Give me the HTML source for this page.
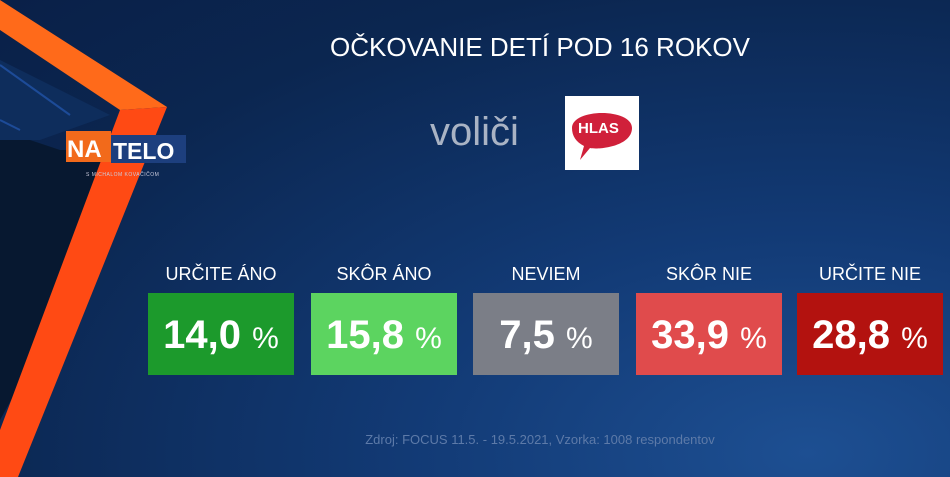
<!DOCTYPE html>
<html><head><style>
body{margin:0;width:950px;height:477px;overflow:hidden;font-family:"Liberation Sans",sans-serif;}
#bg{position:absolute;left:0;top:0;width:950px;height:477px;background:radial-gradient(ellipse at 85% 95%,#1d4f92 0%,#123a75 35%,#0b2650 75%,#0a2048 100%);}
.t{position:absolute;color:#fff;}
.lab{position:absolute;top:264px;width:146px;text-align:center;color:#fff;font-size:18px;}
.box{position:absolute;top:293px;width:146px;height:82px;color:#fff;text-align:center;line-height:84px;font-size:40px;font-weight:bold;}
.box span{font-weight:normal;font-size:30px;}
</style></head><body>
<div id="bg"></div>
<svg width="950" height="477" style="position:absolute;left:0;top:0">
<polygon points="0,140 30,140 60,150 150,150 0,420" fill="#071830"/>
<polygon points="0,60 110,115 40,140 0,140" fill="#0e2d5c"/>
<line x1="0" y1="65" x2="70" y2="115" stroke="#1d4b98" stroke-width="2"/>
<line x1="0" y1="120" x2="20" y2="130" stroke="#1d4b98" stroke-width="2"/>
<polygon points="0,0 0,30 120,110 167,107" fill="#ff6a1a"/>
<polygon points="120,110 167,107 18,477 0,477 0,430" fill="#ff4a14"/>
<rect x="66" y="131" width="45" height="31" fill="#f26a1b"/>
<rect x="111" y="135" width="75" height="28" fill="#1d3f7e"/>
<text x="67" y="157" font-family="Liberation Sans" font-weight="bold" font-size="24" fill="#fff">NA</text>
<text x="113" y="159" font-family="Liberation Sans" font-weight="bold" font-size="23" fill="#fff">TELO</text>
<text x="86" y="176" font-family="Liberation Sans" font-size="5" fill="#ccd" letter-spacing="0.5">S MICHALOM KOVAČIČOM</text>
<rect x="565" y="96" width="74" height="74" fill="#fff"/>
<path d="M572,128 C572,108 632,108 632,128 C632,146 600,150 590,148 L580,160 L584,146 C576,142 572,136 572,128Z" fill="#d0203a"/>
<text x="578" y="133" font-family="Liberation Sans" font-weight="bold" font-size="15" fill="#fff">HLAS</text>
</svg>
<div class="t" style="left:0;width:1080px;text-align:center;top:32px;font-size:26px;">OČKOVANIE DETÍ POD 16 ROKOV</div>
<div class="t" style="left:430px;top:110px;font-size:40px;color:#a9b3c4;">voliči</div>
<div class="lab" style="left:148px">URČITE ÁNO</div>
<div class="lab" style="left:311px">SKÔR ÁNO</div>
<div class="lab" style="left:473px">NEVIEM</div>
<div class="lab" style="left:636px">SKÔR NIE</div>
<div class="lab" style="left:797px">URČITE NIE</div>
<div class="box" style="left:148px;background:#1c9a2c">14,0 <span>%</span></div>
<div class="box" style="left:311px;background:#5cd460">15,8 <span>%</span></div>
<div class="box" style="left:473px;background:#7b7e87">7,5 <span>%</span></div>
<div class="box" style="left:636px;background:#e04b4c">33,9 <span>%</span></div>
<div class="box" style="left:797px;background:#b3120f">28,8 <span>%</span></div>
<div class="t" style="left:340px;width:400px;text-align:center;top:432px;font-size:13px;color:#5d7aa8;">Zdroj: FOCUS 11.5. - 19.5.2021, Vzorka: 1008 respondentov</div>
</body></html>
